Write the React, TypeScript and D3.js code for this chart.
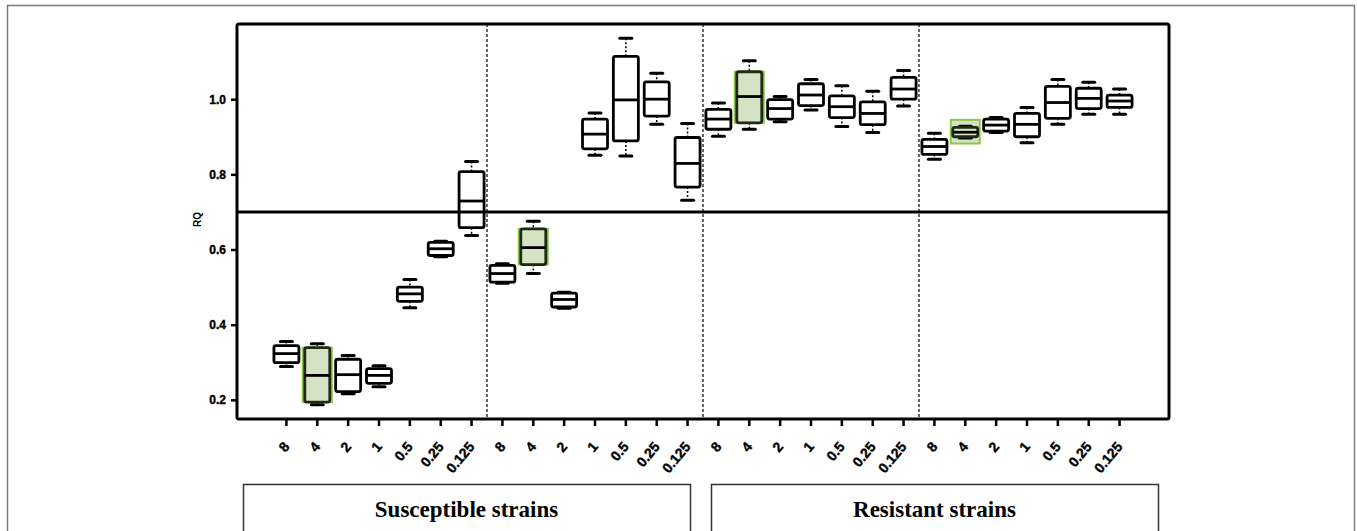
import React, { useEffect, useRef } from 'react';
import * as d3 from 'd3';

const doses = ['8', '4', '2', '1', '0.5', '0.25', '0.125'];
const strainGroups = ['S1', 'S2', 'R1', 'R2'];
const categories = strainGroups.flatMap((g) => doses.map((d) => `${g}|${d}`));

// box stats per category
const whiskerHigh = [0.355, 0.349, 0.318, 0.291, 0.52, 0.622, 0.834, 0.562, 0.675, 0.486, 0.963, 1.162, 1.069, 0.935, 0.99, 1.102, 1.007, 1.052, 1.036, 1.021, 1.076, 0.909, 0.928, 0.951, 0.978, 1.052, 1.045, 1.027];
const q3 = [0.344, 0.339, 0.308, 0.283, 0.5, 0.619, 0.807, 0.558, 0.655, 0.484, 0.947, 1.114, 1.046, 0.898, 0.973, 1.073, 0.999, 1.041, 1.009, 0.993, 1.058, 0.893, 0.925, 0.947, 0.962, 1.034, 1.029, 1.011];
const median = [0.323, 0.265, 0.267, 0.265, 0.482, 0.602, 0.729, 0.536, 0.605, 0.467, 0.907, 0.998, 1.0, 0.829, 0.947, 1.007, 0.975, 1.011, 0.98, 0.962, 1.027, 0.874, 0.912, 0.931, 0.933, 0.991, 1.002, 0.995];
const q1 = [0.299, 0.194, 0.222, 0.244, 0.462, 0.584, 0.658, 0.513, 0.56, 0.447, 0.868, 0.889, 0.955, 0.766, 0.92, 0.937, 0.947, 0.983, 0.951, 0.932, 1.0, 0.853, 0.9, 0.915, 0.9, 0.949, 0.975, 0.978];
const whiskerLow = [0.289, 0.187, 0.216, 0.235, 0.445, 0.581, 0.637, 0.51, 0.536, 0.444, 0.851, 0.849, 0.933, 0.731, 0.901, 0.92, 0.94, 0.971, 0.927, 0.911, 0.982, 0.84, 0.897, 0.911, 0.884, 0.933, 0.96, 0.96];

// green highlighted boxes
const highlightIdx = [1, 8, 15, 22];
const highlightLow = [0.194, 0.56, 0.937, 0.882];
const highlightHigh = [0.339, 0.655, 1.073, 0.945];

const yTicks = [0.2, 0.4, 0.6, 0.8, 1.0];
const threshold = 0.7;
const panelLabels = ['Susceptible strains', 'Resistant strains'];

const W = 1357;
const H = 531;
const plot = { left: 237, top: 24, right: 1169, bottom: 419 };

export default function App() {
  const xAxisRef = useRef<SVGGElement>(null);
  const yAxisRef = useRef<SVGGElement>(null);

  const x = d3.scaleBand<string>().domain(categories).range([271, 1135]).padding(0);
  const y = d3.scaleLinear().domain([0.149, 1.2]).range([plot.bottom, plot.top]);
  const bw = 25;
  const capW = 12;

  useEffect(() => {
    const ya = d3.select(yAxisRef.current);
    ya.selectAll('*').remove();
    ya.call(d3.axisLeft(y).tickValues(yTicks).tickFormat(d3.format('.1f')).tickSize(5).tickPadding(5));
    ya.select('.domain').remove();
    ya.selectAll('line').attr('stroke', '#000').attr('stroke-width', 2.5);
    ya.selectAll('text')
      .attr('font-family', 'Liberation Sans, Arial, sans-serif')
      .attr('font-weight', 'bold')
      .attr('font-size', 12)
      .attr('fill', '#000')
      .attr('stroke', '#000')
      .attr('stroke-width', 0.4);

    const xa = d3.select(xAxisRef.current);
    xa.selectAll('*').remove();
    xa.call(d3.axisBottom(x).tickFormat((d) => d.split('|')[1]).tickSize(6).tickPadding(18));
    xa.select('.domain').remove();
    xa.selectAll('line').attr('stroke', '#000').attr('stroke-width', 2.5);
    xa.selectAll('text')
      .attr('font-family', 'Liberation Sans, Arial, sans-serif')
      .attr('font-weight', 'bold')
      .attr('font-size', 14)
      .attr('fill', '#000')
      .attr('stroke', '#000')
      .attr('stroke-width', 0.4)
      .style('text-anchor', 'end')
      .attr('dx', '0em')
      .attr('dy', '0.35em')
      .attr('transform', function () {
        const t = d3.select(this).attr('y');
        return `rotate(-50, 0, ${t})`;
      });
  }, []);

  const cx = (i: number) => (x(categories[i]) as number) + x.bandwidth() / 2;

  return (
    <svg width={W} height={H} style={{ position: 'absolute', left: 0, top: 0, background: '#fff' }}>
      <rect x={7.5} y={5.5} width={1347} height={540} fill="#fff" stroke="#7a7a7a" strokeWidth={1.5} />

      {/* group dividers */}
      {[1, 2, 3].map((g) => {
        const xx = x(categories[g * 7]) as number;
        return (
          <line key={g} x1={xx} x2={xx} y1={plot.top} y2={plot.bottom} stroke="#000" strokeWidth={1.2} strokeDasharray="3,2" />
        );
      })}

      {/* threshold line */}
      <line x1={plot.left} x2={plot.right} y1={y(threshold)} y2={y(threshold)} stroke="#000" strokeWidth={3} />

      {/* highlights */}
      {highlightIdx.map((i, k) => (
        <rect
          key={'h' + i}
          x={cx(i) - bw / 2 - 2}
          y={y(highlightHigh[k])}
          width={bw + 4}
          height={y(highlightLow[k]) - y(highlightHigh[k])}
          fill="#d4e3c4"
          stroke="#8cc850"
          strokeWidth={2}
        />
      ))}

      {/* boxes */}
      {categories.map((c, i) => {
        const xc = cx(i);
        return (
          <g key={c}>
            <line x1={xc} x2={xc} y1={y(whiskerHigh[i])} y2={y(q3[i])} stroke="#000" strokeWidth={1.5} strokeDasharray="2,2" />
            <line x1={xc} x2={xc} y1={y(q1[i])} y2={y(whiskerLow[i])} stroke="#000" strokeWidth={1.5} strokeDasharray="2,2" />
            <line x1={xc - capW / 2} x2={xc + capW / 2} y1={y(whiskerHigh[i])} y2={y(whiskerHigh[i])} stroke="#000" strokeWidth={3} strokeLinecap="round" />
            <line x1={xc - capW / 2} x2={xc + capW / 2} y1={y(whiskerLow[i])} y2={y(whiskerLow[i])} stroke="#000" strokeWidth={3} strokeLinecap="round" />
            <rect
              x={xc - bw / 2}
              y={y(q3[i])}
              width={bw}
              height={y(q1[i]) - y(q3[i])}
              rx={2}
              fill="none"
              stroke={highlightIdx.includes(i) ? '#1e2a14' : '#000'}
              strokeWidth={2.8}
            />
            <line x1={xc - bw / 2} x2={xc + bw / 2} y1={y(median[i])} y2={y(median[i])} stroke="#000" strokeWidth={2.8} />
          </g>
        );
      })}

      {/* plot frame */}
      <rect x={plot.left} y={plot.top} width={plot.right - plot.left} height={plot.bottom - plot.top} fill="none" stroke="#000" strokeWidth={3} rx={2} />

      <g ref={yAxisRef} transform={`translate(${plot.left - 1},0)`} />
      <g ref={xAxisRef} transform={`translate(0,${plot.bottom + 1})`} />

      <text
        transform={`translate(201,${y(0.68)}) rotate(-90)`}
        textAnchor="middle"
        fontFamily="Liberation Sans, Arial, sans-serif"
        fontWeight="bold"
        fontSize={10}
      >
        RQ
      </text>

      {/* strain panels */}
      {panelLabels.map((label, k) => {
        const x0 = k === 0 ? 243 : 711;
        const w = 447;
        return (
          <g key={label}>
            <rect x={x0 + 0.5} y={484.5} width={w} height={60} fill="#fff" stroke="#333" strokeWidth={1.5} />
            <text
              x={x0 + w / 2}
              y={517}
              textAnchor="middle"
              fontFamily="Liberation Serif, Times New Roman, serif"
              fontWeight="bold"
              fontSize={23}
            >
              {label}
            </text>
          </g>
        );
      })}
    </svg>
  );
}
